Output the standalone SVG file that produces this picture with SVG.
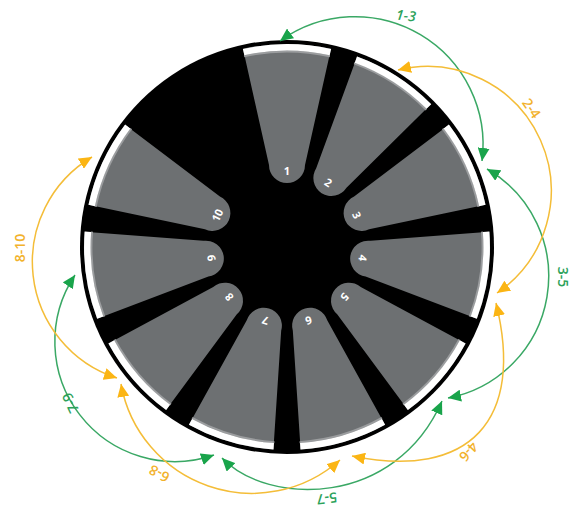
<svg xmlns="http://www.w3.org/2000/svg" width="577" height="512" viewBox="0 0 577 512">
<style>
.petal{fill:#6d7072}
.band{fill:none;stroke:#ffffff;stroke-width:6.5}
.shade1{fill:none;stroke:#9b9d9f;stroke-width:2}
.num{font-family:"Open Sans","Liberation Sans",sans-serif;font-size:11px;font-weight:700;fill:#ffffff;text-anchor:middle;dominant-baseline:central}
.g{fill:none;stroke:#3aa865;stroke-width:1.5;marker-start:url(#hg);marker-end:url(#hg)}
.y{fill:none;stroke:#f4bd38;stroke-width:1.5;marker-start:url(#hy);marker-end:url(#hy)}
.lbl{font-family:"Open Sans","Liberation Sans",sans-serif;font-size:14px;font-weight:600;text-anchor:middle;dominant-baseline:central}
.lg{fill:#2ca25a}
.ly{fill:#f2b22c}
</style>
<defs>
<path id="petal" d="M -18,-82 L -44,-198.2 A 203 203 0 0 1 44,-198.2 L 18,-82 A 18 18 0 0 1 -18,-82 Z"/>
<g id="rimdeco">
<path class="shade1" d="M -42.9,-190.8 A 195.5 195.5 0 0 1 42.9,-190.8"/>
<path class="band" d="M -43.4,-194.9 A 199.7 199.7 0 0 1 43.4,-194.9"/>
</g>
<marker id="hg" viewBox="0 0 13 12" refX="13" refY="6" markerWidth="13" markerHeight="12" markerUnits="userSpaceOnUse" orient="auto-start-reverse"><path d="M0,0 L13,6 L0,12 Z" fill="#19a44b"/></marker>
<marker id="hy" viewBox="0 0 13 12" refX="13" refY="6" markerWidth="13" markerHeight="12" markerUnits="userSpaceOnUse" orient="auto-start-reverse"><path d="M0,0 L13,6 L0,12 Z" fill="#fbb514"/></marker>
</defs>
<rect width="577" height="512" fill="#ffffff"/>
<g id="wheel"><circle cx="287" cy="247" r="207" fill="#000000"/></g>
<g id="petal-1" transform="translate(287,247) rotate(0)"><use href="#petal" class="petal"/><use href="#rimdeco"/><text class="num" x="0" y="-77">1</text></g>
<g id="petal-2" transform="translate(287,247) rotate(32.73)"><use href="#petal" class="petal"/><use href="#rimdeco"/><text class="num" x="0" y="-77">2</text></g>
<g id="petal-3" transform="translate(287,247) rotate(65.45)"><use href="#petal" class="petal"/><use href="#rimdeco"/><text class="num" x="0" y="-77">3</text></g>
<g id="petal-4" transform="translate(287,247) rotate(98.18)"><use href="#petal" class="petal"/><use href="#rimdeco"/><text class="num" x="0" y="-77">4</text></g>
<g id="petal-5" transform="translate(287,247) rotate(130.91)"><use href="#petal" class="petal"/><use href="#rimdeco"/><text class="num" x="0" y="-77">5</text></g>
<g id="petal-6" transform="translate(287,247) rotate(163.64)"><use href="#petal" class="petal"/><use href="#rimdeco"/><text class="num" x="0" y="-77">6</text></g>
<g id="petal-7" transform="translate(287,247) rotate(196.36)"><use href="#petal" class="petal"/><use href="#rimdeco"/><text class="num" x="0" y="-77">7</text></g>
<g id="petal-8" transform="translate(287,247) rotate(229.09)"><use href="#petal" class="petal"/><use href="#rimdeco"/><text class="num" x="0" y="-77">8</text></g>
<g id="petal-9" transform="translate(287,247) rotate(261.82)"><use href="#petal" class="petal"/><use href="#rimdeco"/><text class="num" x="0" y="-77">9</text></g>
<g id="petal-10" transform="translate(287,247) rotate(294.55)"><use href="#petal" class="petal"/><use href="#rimdeco"/><text class="num" x="0" y="-77">10</text></g>
<g id="connectors">
<path class="g" d="M 280,41 A 128 128 0 0 1 482,161"/>
<path class="g" d="M 487,169 A 124 124 0 0 1 448,398"/>
<path class="g" d="M 442,401 C 395,508 268,506 222,458"/>
<path class="g" d="M 214,455 A 120 120 0 0 1 75,275"/>
<path class="y" d="M 398,70 A 124 124 0 0 1 497,293"/>
<path class="y" d="M 496,303 C 525,420 470,480 352,456"/>
<path class="y" d="M 340,460 A 133 133 0 0 1 121,384"/>
<path class="y" d="M 117,378 A 122 122 0 0 1 92,157"/>
</g>
<g id="labels">
<text class="lbl lg" font-style="italic" transform="translate(406,15) rotate(6)">1-3</text>
<text class="lbl ly" transform="translate(532,108) rotate(55)">2-4</text>
<text class="lbl lg" transform="translate(563,277) rotate(90)">3-5</text>
<text class="lbl ly" transform="translate(469,452) rotate(132)">4-6</text>
<text class="lbl lg" transform="translate(327,499) rotate(173)">5-7</text>
<text class="lbl ly" transform="translate(159,474) rotate(208)">6-8</text>
<text class="lbl lg" transform="translate(70,403) rotate(245)">7-9</text>
<text class="lbl ly" transform="translate(19,248) rotate(270)">8-10</text>
</g>
</svg>
